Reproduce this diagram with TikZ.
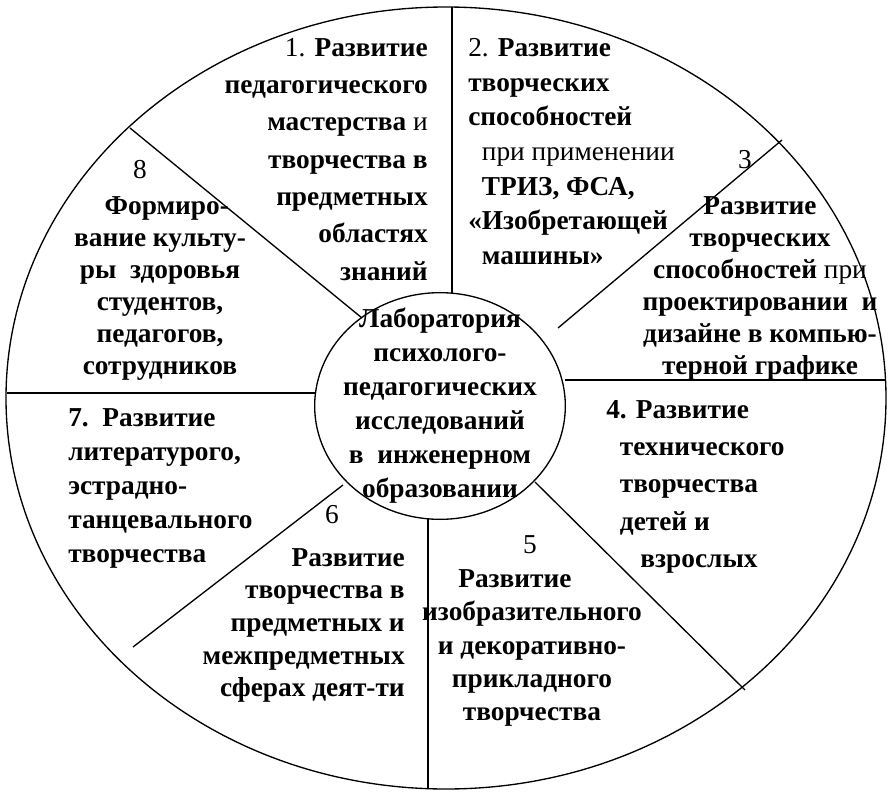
\documentclass[tikz,border=0pt]{standalone}
\usepackage{fontspec}
\setmainfont{Liberation Serif}
\usetikzlibrary{shapes.geometric}
\begin{document}
\begin{tikzpicture}[x=0.75pt,y=-0.75pt,
  txt/.style={font=\fontsize{20.5}{28}\selectfont\bfseries, inner sep=0pt},
  num/.style={font=\fontsize{20.5}{28}\selectfont, inner sep=0pt},
  sk/.style={font=\fontsize{20.5}{#1}\selectfont\bfseries},
  ln/.style={line width=1pt}]
\useasboundingbox (0,0) rectangle (893,796);
\fill[white] (0,0) rectangle (893,796);
\draw[ln] (446,398) ellipse [x radius=440, y radius=391];
\node[draw, ellipse, line width=1pt, minimum width=188pt, minimum height=170pt, inner sep=0pt] (c) at (440,406) {};
\node[txt, sk=25.5, align=center] (ct) at (440,406) {Лаборатория\\психолого-\\педагогических\\исследований\\в\ \ инженерном\\образовании};
% dividers
\coordinate (o1) at (452,7);   \coordinate (i1) at (452,293);
\coordinate (o2) at (782,140); \coordinate (i2) at (558,328);
\coordinate (o3) at (886,380); \coordinate (i3) at (565,380);
\coordinate (o4) at (745,690); \coordinate (i4) at (535,482);
\coordinate (o5) at (428,789); \coordinate (i5) at (428,518);
\coordinate (o6) at (133,647); \coordinate (i6) at (343,485);
\coordinate (o7) at (7,393);   \coordinate (i7) at (315,393);
\coordinate (o8) at (130,128); \coordinate (i8) at (362,318);
\foreach \k in {1,...,8} \draw[ln] (o\k) -- (i\k);
% sectors
\node[txt, align=right, anchor=north east] (s1) at (428,38) {{\mdseries 1.} Развитие\\педагогического\\мастерства {\mdseries и}\\творчества в\\предметных\\областях\\знаний};
\node[txt, sk=26, align=left, anchor=north west] (s2) at (468,38) {{\mdseries 2.} Развитие\\творческих\\способностей\\\ \ {\mdseries при применении}\\\ \ ТРИЗ, ФСА,\\«Изобретающей\\\ \ машины»};
\node[num] (n3) at (745,160) {3};
\node[txt, sk=24, align=center] (s3) at (760,288) {Развитие\\творческих\\способностей {\mdseries при}\\проектировании\ \ и\\дизайне в компью-\\терной графике};
\node[txt, align=left, anchor=north west] (s4) at (606,400) {4. Развитие\\\ \ технического\\\ \ творчества\\\ \ детей и\\\ \ \ \ \ взрослых};
\node[num] (n5) at (530,545) {5};
\node[txt, sk=25, align=center] (s5) at (532,648) {Развитие\ \ \ \ \ \ \\изобразительного\\и декоративно-\\прикладного\\творчества};
\node[num] (n6) at (332,515) {6};
\node[txt, sk=24.5, align=right, anchor=north east] (s6) at (405,548) {Развитие\\творчества в\\предметных и\\межпредметных\\сферах деят-ти};
\node[txt, sk=25.5, align=left, anchor=north west] (s7) at (68,408) {7.\ \ Развитие\\литературого,\\эстрадно-\\танцевального\\творчества};
\node[num] (n8) at (140,170) {8};
\node[txt, sk=24, align=center] (s8) at (160,288) {\ \ Формиро-\\вание культу-\\ры\ \ здоровья\\студентов,\\педагогов,\\сотрудников};
\end{tikzpicture}
\end{document}
